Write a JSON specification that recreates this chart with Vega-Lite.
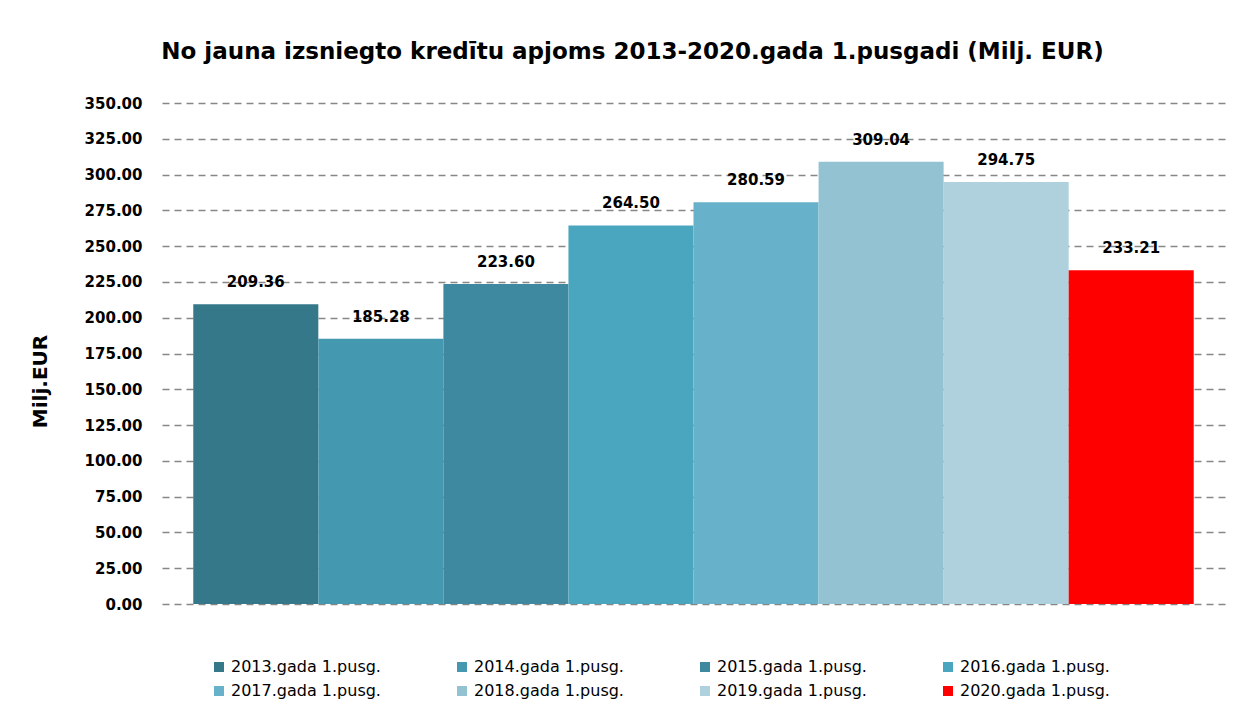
{
  "$schema": "https://vega.github.io/schema/vega-lite/v6.json",
  "width": 1063,
  "height": 501,
  "autosize": {"type": "none"},
  "padding": {"left": 162, "top": 103, "right": 21, "bottom": 119},
  "background": "white",
  "config": {
    "font": "DejaVu Sans",
    "view": {"stroke": null}
  },
  "title": {
    "text": "No jauna izsniegto kredītu apjoms 2013-2020.gada 1.pusgadi (Milj. EUR)",
    "font": "DejaVu Sans",
    "fontSize": 23,
    "fontWeight": "bold",
    "color": "#000000",
    "anchor": "middle",
    "dx": -61,
    "offset": 32
  },
  "data": {
    "values": [
      {"period": "2013.gada 1.pusg.", "value": 209.36},
      {"period": "2014.gada 1.pusg.", "value": 185.28},
      {"period": "2015.gada 1.pusg.", "value": 223.60},
      {"period": "2016.gada 1.pusg.", "value": 264.50},
      {"period": "2017.gada 1.pusg.", "value": 280.59},
      {"period": "2018.gada 1.pusg.", "value": 309.04},
      {"period": "2019.gada 1.pusg.", "value": 294.75},
      {"period": "2020.gada 1.pusg.", "value": 233.21}
    ]
  },
  "encoding": {
    "x": {
      "field": "period",
      "type": "nominal",
      "sort": null,
      "axis": null,
      "scale": {"paddingInner": 0, "paddingOuter": 0.25}
    },
    "y": {
      "field": "value",
      "type": "quantitative",
      "scale": {"domain": [0, 350], "nice": false},
      "axis": {
        "title": "Milj.EUR",
        "titleFont": "DejaVu Sans",
        "titleFontSize": 20,
        "titleFontWeight": "bold",
        "titleColor": "#000000",
        "titlePadding": 34,
        "titleY": 278,
        "values": [0, 25, 50, 75, 100, 125, 150, 175, 200, 225, 250, 275, 300, 325, 350],
        "format": ".2f",
        "labelFont": "DejaVu Sans",
        "labelFontSize": 15,
        "labelFontWeight": "bold",
        "labelColor": "#000000",
        "labelPadding": 20,
        "ticks": false,
        "domain": false,
        "grid": true,
        "gridColor": "#878787",
        "gridDash": [7, 5],
        "gridWidth": 1.6
      }
    }
  },
  "layer": [
    {
      "mark": {"type": "bar"},
      "encoding": {
        "color": {
          "field": "period",
          "type": "nominal",
          "sort": null,
          "scale": {
            "range": ["#35788a", "#4499b0", "#3e89a0", "#4aa6be", "#67b2ca", "#93c2d3", "#afd1dd", "#ff0000"]
          },
          "legend": {
            "title": null,
            "orient": "none",
            "legendX": 49,
            "legendY": 556,
            "direction": "horizontal",
            "columns": 4,
            "columnPadding": 73,
            "rowPadding": 8,
            "symbolType": "square",
            "symbolSize": 100,
            "symbolStrokeWidth": 0,
            "labelFontSize": 16,
            "labelFont": "DejaVu Sans",
            "labelColor": "#000000",
            "labelOffset": 4,
            "labelLimit": 250
          }
        }
      }
    },
    {
      "mark": {"type": "text", "baseline": "middle", "dy": -22, "font": "DejaVu Sans", "fontSize": 15, "fontWeight": "bold", "color": "#000000"},
      "encoding": {
        "text": {"field": "value", "type": "quantitative", "format": ".2f"}
      }
    }
  ]
}
